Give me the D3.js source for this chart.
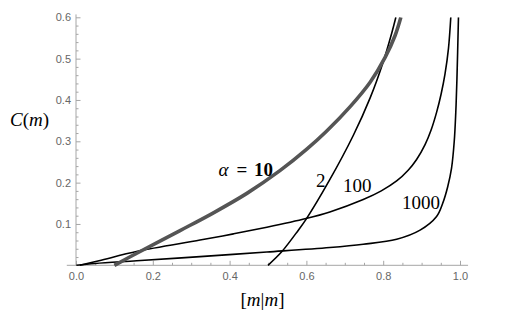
<!DOCTYPE html>
<html>
<head>
<meta charset="utf-8">
<script src="https://cdn.jsdelivr.net/npm/d3@7"></script>
<style>
  html, body { margin: 0; padding: 0; background: #fff; }
  svg { display: block; }
</style>
</head>
<body>
<svg id="chart" width="510" height="316"></svg>
<script>
// ---- data ----
const alphas = ["2", "10", "100", "1000"];
const seriesAlpha2 = [[0.5,0],[0.535,0.032],[0.579,0.085],[0.599,0.111],[0.659,0.204],[0.722,0.314],[0.766,0.405],[0.800,0.492],[0.822,0.561],[0.833,0.6]];
const seriesAlpha10 = [[0.1,0],[0.162,0.031],[0.271,0.084],[0.358,0.127],[0.445,0.174],[0.531,0.229],[0.601,0.281],[0.653,0.325],[0.714,0.384],[0.766,0.443],[0.805,0.503],[0.831,0.556],[0.846,0.6]];
const seriesAlpha100 = [[0.01,0],[0.06,0.011],[0.160,0.034],[0.323,0.061],[0.41,0.076],[0.497,0.092],[0.599,0.113],[0.661,0.129],[0.748,0.159],[0.795,0.180],[0.835,0.204],[0.865,0.230],[0.887,0.256],[0.909,0.292],[0.925,0.328],[0.939,0.370],[0.951,0.415],[0.961,0.463],[0.970,0.525],[0.976,0.6]];
const seriesAlpha1000 = [[0.001,0],[0.05,0.0045],[0.158,0.011],[0.323,0.021],[0.497,0.032],[0.661,0.043],[0.748,0.051],[0.835,0.063],[0.896,0.085],[0.939,0.118],[0.955,0.150],[0.968,0.190],[0.978,0.235],[0.985,0.30],[0.989,0.37],[0.992,0.45],[0.996,0.6]];
const xTicks = [0, 0.2, 0.4, 0.6, 0.8, 1.0];
const xTickLabels = ["0.0", "0.2", "0.4", "0.6", "0.8", "1.0"];
const yTicks = [0.1, 0.2, 0.3, 0.4, 0.5, 0.6];
const yTickLabels = ["0.1", "0.2", "0.3", "0.4", "0.5", "0.6"];

// ---- layout ----
const svg = d3.select("#chart");
const x = d3.scaleLinear().domain([0, 1]).range([76, 460]);
const y = d3.scaleLinear().domain([0, 0.6]).range([265.3, 17.3]);

const axisColor = "#a6a6a6";
const labelColor = "#666666";

// clip
svg.append("defs").append("clipPath").attr("id", "clip")
  .append("rect").attr("x", x(0) - 2).attr("y", y(0.6))
  .attr("width", x(1) - x(0) + 12).attr("height", y(0) - y(0.6) + 2);

// minor ticks
const xMinor = d3.range(0, 1.0001, 0.05).filter(v => Math.abs(v / 0.2 - Math.round(v / 0.2)) > 1e-6);
const yMinor = d3.range(0.02, 0.6001, 0.02).filter(v => Math.abs(v / 0.1 - Math.round(v / 0.1)) > 1e-6);

const gx = svg.append("g").attr("transform", `translate(0,${y(0)})`);
gx.call(d3.axisBottom(x).tickValues(xMinor).tickSizeInner(-2.5).tickSizeOuter(0).tickFormat(""));
gx.call(g => g.select(".domain").remove());
const gx2 = svg.append("g").attr("transform", `translate(0,${y(0)})`);
gx2.call(d3.axisBottom(x).tickValues(xTicks).tickSizeInner(-4.5).tickSizeOuter(0).tickPadding(6.5)
  .tickFormat((d, i) => xTickLabels[i]));
gx2.call(g => g.select(".domain").remove());

const gy = svg.append("g").attr("transform", `translate(${x(0)},0)`);
gy.call(d3.axisLeft(y).tickValues(yMinor).tickSizeInner(-2.5).tickSizeOuter(0).tickFormat(""));
gy.call(g => g.select(".domain").remove());
const gy2 = svg.append("g").attr("transform", `translate(${x(0)},0)`);
gy2.call(d3.axisLeft(y).tickValues(yTicks).tickSizeInner(-4.5).tickSizeOuter(0).tickPadding(5)
  .tickFormat((d, i) => yTickLabels[i]));
gy2.call(g => g.select(".domain").remove());

svg.selectAll(".tick line").attr("stroke", axisColor).attr("stroke-width", 1);
svg.selectAll(".tick text").attr("fill", labelColor)
  .style("font-family", "'Liberation Sans', Arial, sans-serif").style("font-size", "11px");

// axis lines
svg.append("line").attr("x1", x(-0.024)).attr("x2", x(1.021)).attr("y1", y(0)).attr("y2", y(0))
  .attr("stroke", axisColor).attr("stroke-width", 1);
svg.append("line").attr("x1", x(0)).attr("x2", x(0)).attr("y1", y(0)).attr("y2", y(0.607))
  .attr("stroke", axisColor).attr("stroke-width", 1);

// curves
const line = d3.line().x(d => x(d[0])).y(d => y(d[1])).curve(d3.curveCatmullRom.alpha(0.5));
const plot = svg.append("g").attr("clip-path", "url(#clip)");
const series = [
  { name: alphas[0], data: seriesAlpha2, color: "#000", width: 1.6 },
  { name: alphas[2], data: seriesAlpha100, color: "#000", width: 1.6 },
  { name: alphas[3], data: seriesAlpha1000, color: "#000", width: 1.6 },
  { name: alphas[1], data: seriesAlpha10, color: "#555555", width: 3.6 }
];
plot.selectAll("path.curve").data(series).join("path")
  .attr("class", "curve")
  .attr("d", d => line(d.data))
  .attr("fill", "none")
  .attr("stroke", d => d.color)
  .attr("stroke-width", d => d.width)
  .attr("stroke-linejoin", "round");

// curve labels
const serif = "'Liberation Serif', 'Times New Roman', serif";
const lab = svg.append("g").style("font-family", serif).style("font-size", "19px").attr("fill", "#000");
const t10 = lab.append("text").attr("y", 176);
t10.append("tspan").attr("x", 218.5).style("font-style", "italic").text("α");
t10.append("tspan").attr("x", 236.5).style("font-weight", "bold").text("=");
t10.append("tspan").attr("x", 254).style("font-weight", "bold").text(alphas[1]);
lab.append("text").attr("x", 316).attr("y", 186.5).text(alphas[0]);
lab.append("text").attr("x", 343).attr("y", 191.5).text(alphas[2]);
lab.append("text").attr("x", 402).attr("y", 209).text(alphas[3]);

// axis titles
const yt = svg.append("text").attr("x", 10).attr("y", 126)
  .style("font-family", serif).style("font-size", "19px").attr("fill", "#000");
yt.append("tspan").style("font-style", "italic").text("C");
yt.append("tspan").text("(");
yt.append("tspan").style("font-style", "italic").text("m");
yt.append("tspan").text(")");

const xt = svg.append("text").attr("x", 262.5).attr("y", 306).attr("text-anchor", "middle")
  .style("font-family", serif).style("font-size", "19px").attr("fill", "#000");
xt.append("tspan").text("[");
xt.append("tspan").style("font-style", "italic").text("m");
xt.append("tspan").text("|");
xt.append("tspan").style("font-style", "italic").text("m");
xt.append("tspan").text("]");
</script>
</body>
</html>
